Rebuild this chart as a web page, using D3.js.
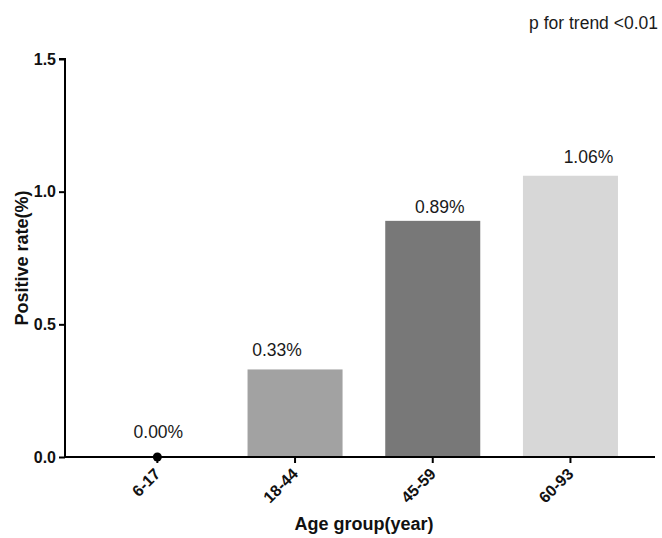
<!DOCTYPE html>
<html>
<head>
<meta charset="utf-8">
<script src="https://cdn.jsdelivr.net/npm/d3@7"></script>
<style>
  html, body { margin: 0; padding: 0; background: #fff; }
  svg { display: block; font-family: "Liberation Sans", Arial, sans-serif; }
</style>
</head>
<body>
<svg id="chart" width="662" height="538"></svg>
<script>
// ---- data ----
const categories = ["6-17", "18-44", "45-59", "60-93"];
const values = [0.00, 0.33, 0.89, 1.06];
const valueLabels = ["0.00%", "0.33%", "0.89%", "1.06%"];
const barColors = ["#000000", "#a2a2a2", "#787878", "#d7d7d7"];
const yTicks = [0.0, 0.5, 1.0, 1.5];
const yTickLabels = ["0.0", "0.5", "1.0", "1.5"];
const annotation = "p for trend <0.01";
const xTitle = "Age group(year)";
const yTitle = "Positive rate(%)";

// ---- layout ----
const svg = d3.select("#chart");
const axisX = 65, axisRight = 655;
const y = d3.scaleLinear().domain([0, 1.5]).range([457, 59]);
const x = d3.scaleBand().domain(categories)
  .range([88.5, 639.3]).paddingInner(0.31).paddingOuter(0.155);

// label nudges (dx, dy above value) as placed in the original
const labelDx = [1, -18, 7, 18];
const labelDy = [19, 13, 7.5, 13];

// bars
svg.append("g").selectAll("rect")
  .data(categories.map((c, i) => ({ c, v: values[i], i })).filter(d => d.v > 0))
  .join("rect")
  .attr("x", d => x(d.c))
  .attr("width", x.bandwidth())
  .attr("y", d => y(d.v))
  .attr("height", d => y(0) - y(d.v))
  .attr("fill", d => barColors[d.i]);

// y axis
const yAxis = d3.axisLeft(y).tickValues(yTicks)
  .tickFormat((d, i) => yTickLabels[i]).tickSize(6).tickPadding(3);
const gy = svg.append("g").attr("transform", `translate(${axisX},0)`).call(yAxis);
gy.select(".domain").attr("d", `M-6,${y(1.5)}H0V${y(0)}`).attr("stroke", "#000").attr("stroke-width", 2);
gy.selectAll(".tick line").attr("stroke", "#000").attr("stroke-width", 2);
gy.selectAll(".tick text").attr("fill", "#111")
  .style("font-size", "16px").style("font-weight", "bold")
  .style("font-family", "'Liberation Sans', Arial, sans-serif");

// x axis
const xAxis = d3.axisBottom(x).tickSize(6).tickFormat("");
const gx = svg.append("g").attr("transform", `translate(0,${y(0)})`).call(xAxis);
gx.select(".domain").attr("d", `M${axisX - 1},0H${axisRight}`).attr("stroke", "#000").attr("stroke-width", 2);
gx.selectAll(".tick line").attr("stroke", "#000").attr("stroke-width", 2);

// rotated x tick labels
svg.append("g").selectAll("text")
  .data(categories)
  .join("text")
  .attr("transform", d => `translate(${x(d) + x.bandwidth() / 2 + 4},${y(0) + 18}) rotate(-45)`)
  .attr("text-anchor", "end")
  .attr("fill", "#111")
  .style("font-size", "16px").style("font-weight", "bold")
  .text(d => d);

// zero-value point marker
categories.forEach((c, i) => {
  if (values[i] === 0) {
    svg.append("circle")
      .attr("cx", x(c) + x.bandwidth() / 2)
      .attr("cy", y(0))
      .attr("r", 4.5)
      .attr("fill", "#000");
  }
});

// value labels
svg.append("g").selectAll("text")
  .data(categories.map((c, i) => ({ c, i })))
  .join("text")
  .attr("x", d => x(d.c) + x.bandwidth() / 2 + labelDx[d.i])
  .attr("y", d => y(values[d.i]) - labelDy[d.i])
  .attr("text-anchor", "middle")
  .attr("fill", "#1a1a1a")
  .style("font-size", "17.5px")
  .text(d => valueLabels[d.i]);

// annotation
svg.append("text")
  .attr("x", 658).attr("y", 29)
  .attr("text-anchor", "end")
  .attr("fill", "#1a1a1a")
  .style("font-size", "17.5px")
  .text(annotation);

// axis titles
svg.append("text")
  .attr("x", (axisX + axisRight) / 2 + 4).attr("y", 530)
  .attr("text-anchor", "middle")
  .attr("fill", "#111")
  .style("font-size", "18px").style("font-weight", "bold")
  .text(xTitle);

svg.append("text")
  .attr("transform", `translate(28,${(y(0) + y(1.5)) / 2}) rotate(-90)`)
  .attr("text-anchor", "middle")
  .attr("fill", "#111")
  .style("font-size", "18px").style("font-weight", "bold")
  .text(yTitle);
</script>
</body>
</html>
